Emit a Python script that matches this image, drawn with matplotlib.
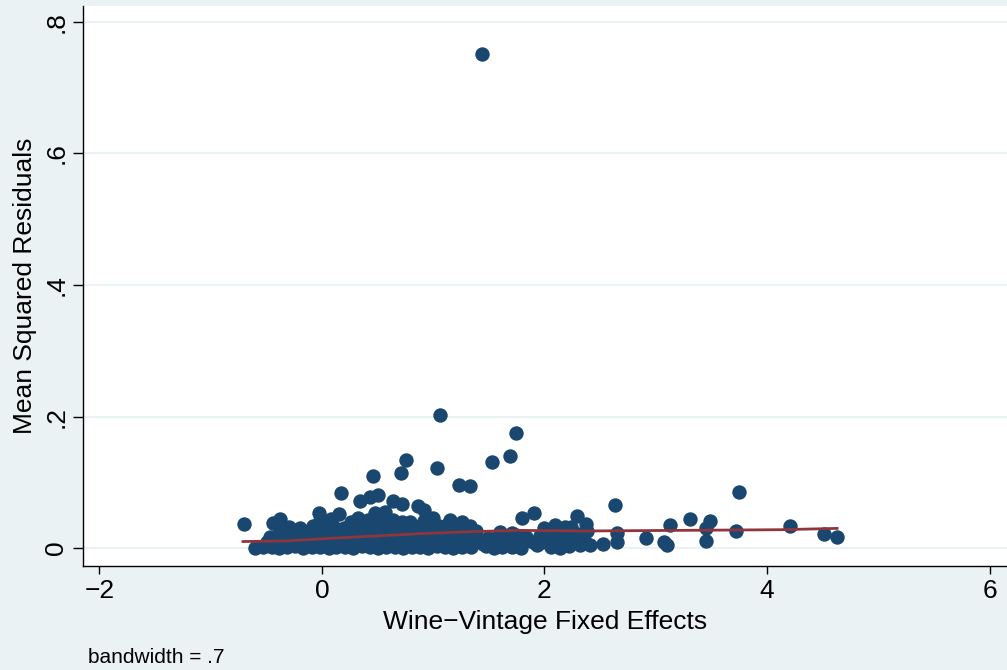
import numpy as np
import matplotlib
matplotlib.use("Agg")
import matplotlib.pyplot as plt

plt.rcParams['font.family'] = ['Liberation Sans', 'DejaVu Sans']

# scattered / upper points (x = fixed effect, y = mean squared residual)
sparse_x = [1.44, 1.06, 1.74, 0.755, 1.53, 1.69, 1.03, 0.46, 0.71, 1.23, 1.33, 0.17,
            3.75, 0.50, 0.43, 0.34, 0.64, 0.72, 0.86, 0.92, 2.63, 1.91, 1.80, 3.31,
            2.29, 3.49, 4.21, 3.13, -0.70, -0.38, -0.44, -0.03, 0.15, 3.72, 3.45, 3.45,
            2.91, 2.53, 2.65, 2.65, 3.07, 3.10, 4.51, 4.63, 2.37, 0.48, 0.57, 0.41,
            1.00, 0.72, 0.79, 1.15, 1.26, 1.33, 2.09, 2.00, 2.18, 2.24, 2.38, 2.32]
sparse_y = [0.751, 0.202, 0.175, 0.134, 0.131, 0.140, 0.122, 0.110, 0.114, 0.096, 0.095, 0.084,
            0.086, 0.081, 0.077, 0.071, 0.072, 0.067, 0.064, 0.058, 0.065, 0.054, 0.046, 0.045,
            0.049, 0.041, 0.033, 0.035, 0.036, 0.045, 0.038, 0.053, 0.052, 0.026, 0.030, 0.011,
            0.015, 0.006, 0.023, 0.010, 0.010, 0.005, 0.022, 0.017, 0.036, 0.053, 0.055, 0.043,
            0.046, 0.040, 0.040, 0.043, 0.040, 0.034, 0.035, 0.030, 0.032, 0.032, 0.026, 0.005]

# dense band near zero
band0_x = [-0.60, -0.53, -0.45, -0.39, -0.31, -0.24, -0.17, -0.09, -0.02, 0.06, 0.13, 0.21, 0.28,
           0.36, 0.43, 0.50, 0.58, 0.66, 0.73, 0.81, 0.88, 0.95, 1.03, 1.11, 1.18, 1.26, 1.34,
           1.47, 1.55, 1.62, 1.71, 1.79, 1.93, 2.06, 2.14, 2.22, 2.41]
band0_y = [0.000, 0.001, 0.002, 0.000, 0.001, 0.003, 0.000, 0.002, 0.001, 0.000, 0.002, 0.001, 0.000,
           0.003, 0.001, 0.000, 0.002, 0.001, 0.000, 0.002, 0.001, 0.000, 0.003, 0.001, 0.000, 0.002, 0.001,
           0.003, 0.000, 0.002, 0.001, 0.000, 0.004, 0.002, 0.000, 0.003, 0.004]
band1_x = [-0.49, -0.41, -0.33, -0.26, -0.18, -0.10, -0.04, 0.04, 0.11, 0.18, 0.26, 0.33, 0.40,
           0.47, 0.55, 0.62, 0.70, 0.78, 0.84, 0.92, 1.00, 1.07, 1.15, 1.22, 1.30, 1.38, 1.45,
           1.52, 1.60, 1.68, 1.75, 1.84, 1.90, 1.98, 2.03, 2.10, 2.16, 2.27, 2.36]
band1_y = [0.009, 0.011, 0.008, 0.010, 0.012, 0.009, 0.011, 0.010, 0.008, 0.012, 0.009, 0.011, 0.010,
           0.008, 0.012, 0.010, 0.009, 0.011, 0.008, 0.012, 0.010, 0.009, 0.011, 0.010, 0.008, 0.012, 0.007,
           0.010, 0.009, 0.011, 0.008, 0.012, 0.010, 0.009, 0.013, 0.011, 0.008, 0.012, 0.010]
band2_x = [-0.47, -0.36, -0.28, -0.20, -0.12, -0.05, 0.02, 0.09, 0.17, 0.24, 0.31, 0.38, 0.45,
           0.53, 0.60, 0.68, 0.75, 0.82, 0.90, 0.97, 1.04, 1.12, 1.19, 1.27, 1.35, 1.49, 1.58,
           1.66, 1.74, 1.83, 1.96, 2.04, 2.12, 2.20, 2.30]
band2_y = [0.017, 0.019, 0.018, 0.020, 0.017, 0.019, 0.021, 0.018, 0.020, 0.017, 0.019, 0.018, 0.021,
           0.017, 0.019, 0.020, 0.018, 0.021, 0.017, 0.019, 0.020, 0.018, 0.021, 0.019, 0.017, 0.016, 0.018,
           0.015, 0.020, 0.017, 0.019, 0.021, 0.018, 0.020, 0.022]
band3_x = [-0.38, -0.30, -0.22, -0.14, -0.06, 0.01, 0.08, 0.14, 0.22, 0.30, 0.37, 0.44, 0.50,
           0.57, 0.64, 0.71, 0.78, 0.86, 0.94, 1.01, 1.08, 1.16, 1.23, 1.30, 1.38, 1.60, 1.71, 2.14]
band3_y = [0.026, 0.024, 0.027, 0.025, 0.028, 0.026, 0.029, 0.025, 0.024, 0.026, 0.028, 0.027, 0.029,
           0.026, 0.030, 0.028, 0.027, 0.029, 0.026, 0.030, 0.028, 0.027, 0.029, 0.031, 0.026, 0.024, 0.023, 0.027]
band4_x = [-0.30, -0.20, -0.08, 0.02, 0.10, 0.20, 0.52, 0.60, 0.66, 0.75, 0.83, 0.90, 0.97, 1.05, 1.13, 1.20,
           -0.02, 0.08, 0.26, 0.32, 0.55, 0.64, 0.92]
band4_y = [0.032, 0.031, 0.034, 0.036, 0.033, 0.031, 0.035, 0.037, 0.034, 0.036, 0.033, 0.035, 0.037, 0.034, 0.036, 0.035,
           0.042, 0.044, 0.040, 0.046, 0.045, 0.043, 0.041]

# lowess curve
lowess_x = [-0.71, -0.32, -0.02, 0.43, 0.88, 1.33, 1.78, 2.32, 3.22, 4.12, 4.63]
lowess_y = [0.010, 0.011, 0.014, 0.018, 0.022, 0.025, 0.027, 0.026, 0.027, 0.028, 0.030]

x_ticks = [-2, 0, 2, 4, 6]
x_labels = ['\u22122', '0', '2', '4', '6']
y_ticks = [0, 0.2, 0.4, 0.6, 0.8]
y_labels = ['0', '.2', '.4', '.6', '.8']

bg = '#eaf2f3'
navy = '#1a476f'
maroon = '#90353b'

all_x = np.concatenate([sparse_x, band0_x, band1_x, band2_x, band3_x, band4_x])
all_y = np.concatenate([sparse_y, band0_y, band1_y, band2_y, band3_y, band4_y])

fig = plt.figure(figsize=(10.07, 6.70), dpi=100, facecolor=bg)
ax = fig.add_axes([0.0824, 0.155, 0.9176, 0.836])
ax.set_facecolor('white')

ax.scatter(all_x, all_y, s=108, color=navy, linewidths=0, zorder=3)
ax.plot(lowess_x, lowess_y, color=maroon, lw=2.0, zorder=4)

ax.set_xlim(-2.148, 6.157)
ax.set_ylim(-0.0274, 0.824)

ax.set_xticks(x_ticks)
ax.set_xticklabels(x_labels, fontsize=19)
ax.set_yticks(y_ticks)
ax.set_yticklabels(y_labels, fontsize=19, rotation=90, va='center')
ax.tick_params(axis='x', length=6, width=1, pad=3)
ax.tick_params(axis='y', length=7.5, width=1, pad=3)

ax.grid(axis='y', color=bg, lw=1.5, zorder=0)
ax.set_axisbelow(True)

for s in ['top', 'right']:
    ax.spines[s].set_visible(False)
for s in ['left', 'bottom']:
    ax.spines[s].set_linewidth(1.0)
    ax.spines[s].set_color('black')

ax.set_xlabel('Wine\u2212Vintage Fixed Effects', fontsize=19, labelpad=5)
ax.set_ylabel('Mean Squared Residuals', fontsize=19, labelpad=5)

fig.text(0.087, 0.019, 'bandwidth = .7', fontsize=15, va='center', ha='left')

fig.savefig('out.png', dpi=100, facecolor=bg)
